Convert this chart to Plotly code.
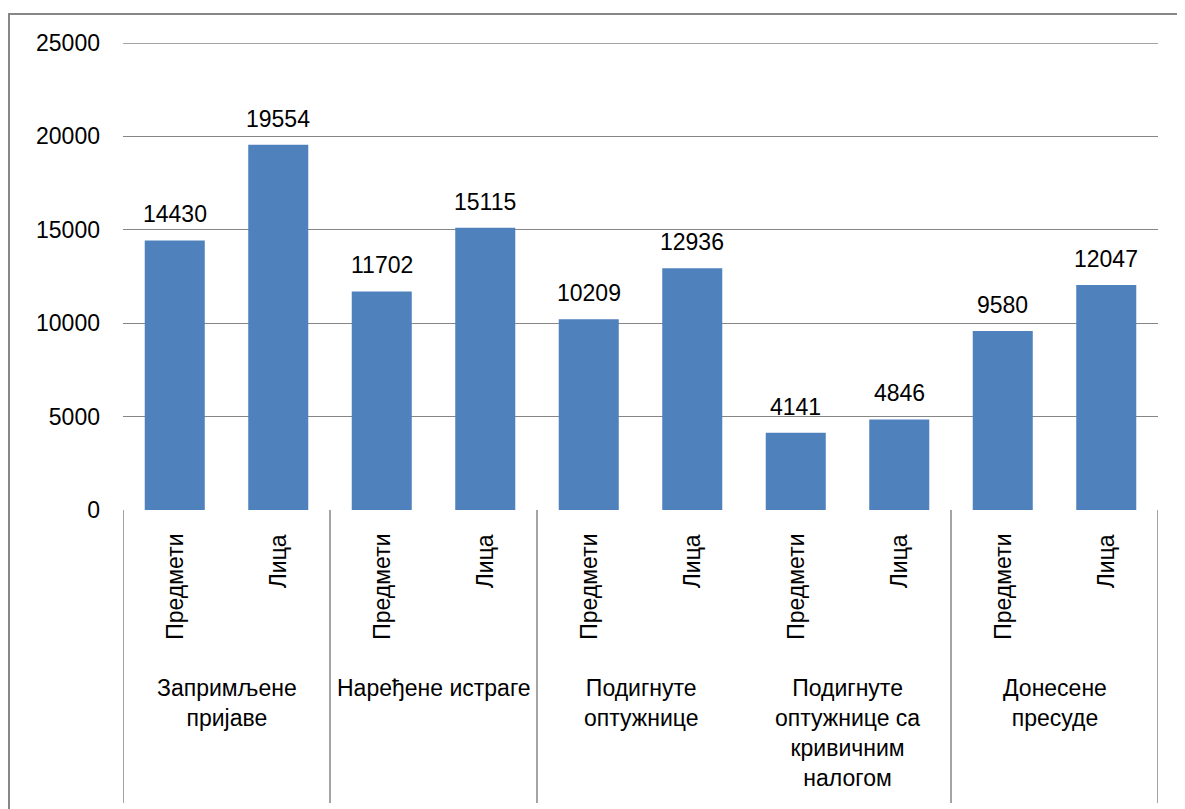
import plotly.graph_objects as go

groups = ["Запримљене<br>пријаве", "Наређене истраге", "Подигнуте<br>оптужнице",
          "Подигнуте<br>оптужнице са<br>кривичним<br>налогом", "Донесене<br>пресуде"]
subcats = ["Предмети", "Лица"]
values = [14430, 19554, 11702, 15115, 10209, 12936, 4141, 4846, 9580, 12047]
y_ticks = [0, 5000, 10000, 15000, 20000, 25000]

OFF = 8  # page body margin in the browser
W, H = 1185 - OFF, 809 - OFF
ml, mr, mt, mb = 123 - OFF, 27, 43 - OFF, 299
plot_w, plot_h = W - ml - mr, H - mt - mb

def py_to_paper(py):
    return (H - mb - (py - OFF)) / plot_h

def px_to_paper(px):
    return ((px - OFF) - ml) / plot_w

FONT = "Liberation Sans"
FS = 23
bar_color = "#4F81BD"
grid_color = "#868686"

n = len(values)
xs = list(range(n))
sub_labels = [subcats[i % len(subcats)] for i in range(n)]

fig = go.Figure()
fig.add_trace(go.Bar(x=xs, y=values, marker=dict(color=bar_color, line=dict(width=0)),
                     width=0.58, showlegend=False, hoverinfo="skip"))

annotations = []
for x, v in zip(xs, values):
    annotations.append(dict(x=x, y=v, xref="x", yref="y", text=str(v), showarrow=False,
                            yanchor="bottom", xanchor="center", yshift=11,
                            font=dict(family=FONT, size=FS, color="black")))
for x, lab in zip(xs, sub_labels):
    annotations.append(dict(x=x, y=py_to_paper(532), xref="x", yref="paper", text=lab,
                            showarrow=False, textangle=-90, xanchor="center", yanchor="top",
                            font=dict(family=FONT, size=FS, color="black")))
per = len(subcats)
for gi, g in enumerate(groups):
    cx = gi * per + (per - 1) / 2
    annotations.append(dict(x=cx, y=py_to_paper(673), xref="x", yref="paper", text=g,
                            showarrow=False, xanchor="center", yanchor="top", align="center",
                            font=dict(family=FONT, size=FS, color="black")))

shapes = []
# top gridline (at the range edge plotly omits it)
shapes.append(dict(type="line", xref="paper", yref="y", x0=0, x1=1,
                   y0=y_ticks[-1], y1=y_ticks[-1], line=dict(color=grid_color, width=1.6)))
skip_dividers = [3]
for gi in range(len(groups) + 1):
    if gi in skip_dividers:
        continue
    bx = gi * per - 0.5
    shapes.append(dict(type="line", xref="x", yref="paper", x0=bx, x1=bx,
                       y0=0, y1=py_to_paper(803), line=dict(color=grid_color, width=1.5)))
shapes.append(dict(type="rect", xref="paper", yref="paper",
                   x0=px_to_paper(9), x1=px_to_paper(1200),
                   y0=py_to_paper(830), y1=py_to_paper(14),
                   line=dict(color="#878787", width=2), layer="below"))

fig.update_layout(
    width=W, height=H,
    margin=dict(l=ml, r=mr, t=mt, b=mb),
    plot_bgcolor="white", paper_bgcolor="white",
    font=dict(family=FONT, size=FS, color="black"),
    xaxis=dict(range=[-0.5, n - 0.5], showticklabels=False, showgrid=False,
               zeroline=False, showline=False, ticks=""),
    yaxis=dict(range=[0, 25000], tickvals=y_ticks, ticktext=[str(t) for t in y_ticks],
               showgrid=True, gridcolor=grid_color, gridwidth=1.3, zeroline=False,
               showline=False, ticks="", ticklabelstandoff=22,
               tickfont=dict(family=FONT, size=FS, color="black")),
    annotations=annotations, shapes=shapes,
)
fig.write_html("out.html")
